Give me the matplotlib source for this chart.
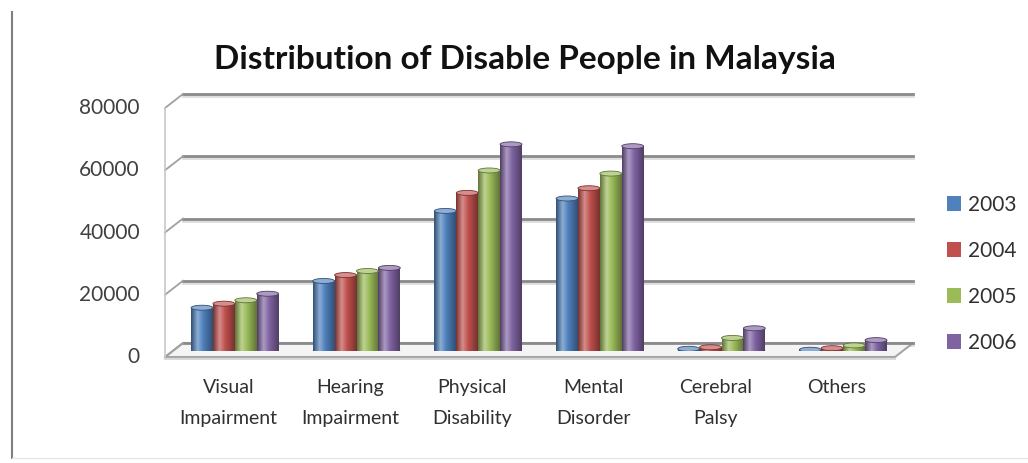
import matplotlib
matplotlib.use('Agg')
import matplotlib.pyplot as plt
import numpy as np
from matplotlib.colors import LinearSegmentedColormap, to_rgb
from matplotlib.patches import Ellipse, Polygon, Rectangle, Patch
from matplotlib.lines import Line2D
from matplotlib.transforms import offset_copy

plt.rcParams['font.family'] = ['Lato', 'DejaVu Sans']

categories = ['Visual\nImpairment', 'Hearing\nImpairment', 'Physical\nDisability',
              'Mental\nDisorder', 'Cerebral\nPalsy', 'Others']
years = ['2003', '2004', '2005', '2006']
y2003 = [13900, 22500, 45000, 49000, 700, 400]
y2004 = [15200, 24400, 50800, 52300, 1200, 900]
y2005 = [16300, 25700, 58000, 57000, 4200, 1800]
y2006 = [18400, 26700, 66400, 65800, 7300, 3500]
series = [y2003, y2004, y2005, y2006]
colors = ['#4F81BD', '#C0504D', '#9BBB59', '#8064A2']
yticks = [0, 20000, 40000, 60000, 80000]

W, H = 1028, 463
fig = plt.figure(figsize=(W / 100, H / 100), dpi=100)
ax = fig.add_axes([174 / W, 1 - 351 / H, 730 / W, 249 / H])
ax.set_axis_off()

# depth offsets (pixels -> data units)
ux = 730 / 6.0
uy = 249 / 80000.0
DXB, DYB = 9 / ux, 8 / uy
DXF, DYF = -9 / ux, -6 / uy

grid_c = '#8a8a8a'

# floor
floor = Polygon([(-0.5 + DXF, DYF), (5.5 + DXF, DYF), (5.5 + DXB, DYB), (-0.5 + DXB, DYB)],
                closed=True, facecolor='#f4f4f4', edgecolor='#a6a6a6', lw=1.5, zorder=1,
                clip_on=False)
ax.add_patch(floor)
ax.plot([-0.5 + DXF, 5.5 + DXF], [DYF - 1.5 / uy] * 2, color='#d9d9d9', lw=1.5, zorder=1,
        clip_on=False)

# back wall gridlines and side wall
for v in yticks:
    ax.plot([-0.5 + DXB, 5.5 + DXB], [v + DYB - 2 / uy] * 2, color='#dddddd', lw=2,
            zorder=0.5, clip_on=False)
    ax.plot([-0.5 + DXB, 5.5 + DXB], [v + DYB] * 2, color=grid_c, lw=2, zorder=1.2,
            clip_on=False)
    ax.plot([-0.5 + DXF, -0.5 + DXB], [v + DYF, v + DYB], color='#a0a0a0', lw=1.3,
            zorder=1.2, clip_on=False)
ax.plot([-0.5 + DXF] * 2, [DYF, 80000 + DYF], color='#c8c8c8', lw=1.2, zorder=1.2,
        clip_on=False)

front = offset_copy(ax.transData, fig, x=-34, y=-6, units='dots')
for v in yticks:
    ax.text(-0.5, v, str(v), transform=front, ha='right', va='center',
            fontsize=15, color='#404040')

# bars with cylinder shading
bw = 0.18
offs = [-0.27, -0.09, 0.09, 0.27]
grad = np.linspace(0, 1, 64).reshape(1, -1)
cap_h = 5 / uy
for vals, c, o in zip(series, colors, offs):
    base = np.array(to_rgb(c))
    dark = base * 0.62
    light = np.clip(base + (1 - base) * 0.35, 0, 1)
    cmap = LinearSegmentedColormap.from_list('cyl', [(0, dark), (0.3, light), (0.55, base), (1, dark)])
    for i, v in enumerate(vals):
        x = i + o
        ax.add_patch(Ellipse((x, 0), bw, cap_h, facecolor=dark, edgecolor='none', zorder=2))
        rect = Rectangle((x - bw / 2, 0), bw, v, facecolor='none', edgecolor='none', zorder=2)
        ax.add_patch(rect)
        im = ax.imshow(grad, extent=[x - bw / 2, x + bw / 2, 0, v], cmap=cmap,
                       aspect='auto', zorder=2.1, interpolation='bilinear')
        im.set_clip_path(rect)
        ax.add_patch(Ellipse((x, v), bw, cap_h, facecolor=light, edgecolor=dark,
                             lw=0.6, zorder=2.2))

ax.set_xlim(-0.5, 5.5)
ax.set_ylim(0, 80000)

for i, lab in enumerate(categories):
    ax.text(i - 0.05, -28 / uy, lab, ha='center', va='top', fontsize=14,
            color='#303030', linespacing=2.0, clip_on=False)

handles = [Patch(facecolor=c, edgecolor='none') for c in colors]
fig.legend(handles, years, loc='upper left', bbox_to_anchor=(928 / W, 1 - 176 / H),
           frameon=False, fontsize=15, handlelength=0.7, handleheight=0.7,
           handletextpad=0.3, labelspacing=1.25, labelcolor='#303030')

fig.text(0.511, 1 - 60 / H, 'Distribution of Disable People in Malaysia',
         ha='center', va='center', fontsize=24, fontweight='bold', color='#111111')

# outer frame
fig.add_artist(Line2D([12 / W, 12 / W], [1 - 12 / H, 1 - 458 / H], color='#7f7f7f', lw=1.5))
fig.add_artist(Line2D([12 / W, 1], [1 - 458 / H, 1 - 458 / H], color='#e6e6e6', lw=1))

fig.savefig('out.png', dpi=100)
